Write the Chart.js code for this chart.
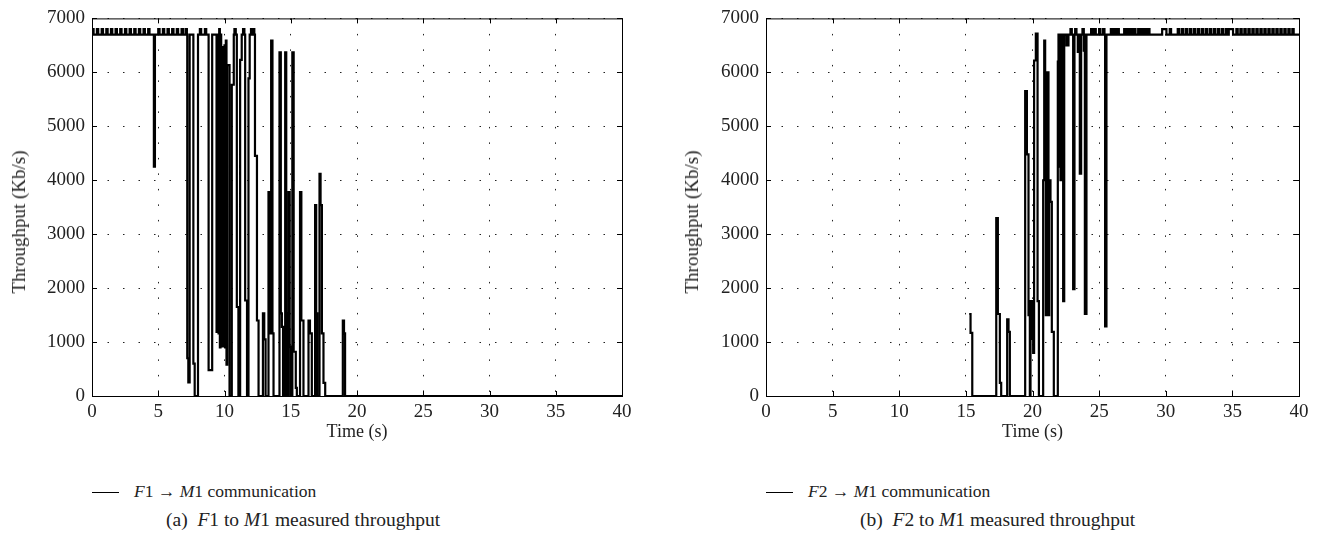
<!DOCTYPE html>
<html lang="en">
<head>
  <meta charset="UTF-8">
  <title>Measured throughput</title>
  <script src="https://cdn.jsdelivr.net/npm/chart.js"></script>
  <style>
    body { margin: 0; background: #fff; font-family: "Liberation Serif", serif; color: #222; }
    #wrap { position: relative; width: 1318px; height: 543px; overflow: hidden; }
    canvas { position: absolute; top: 0; }
    .legend, .caption, .ylab { position: absolute; white-space: nowrap; }
    .legend { font-size: 17.5px; }
    .caption { font-size: 19.5px; }
    .ylab { font-size: 19px; transform: translate(-50%, -50%) rotate(-90deg); }
    .legend span.swatch { display: inline-block; width: 27px; border-top: 1.5px solid #000; vertical-align: middle; margin-right: 15px; }
  </style>
</head>
<body>
<div id="wrap">
  <canvas id="chartA" width="650" height="460" style="left:0"></canvas>
  <canvas id="chartB" width="643" height="460" style="left:675px"></canvas>
  <div class="ylab" style="left:19px; top:222px">Throughput (Kb/s)</div>
  <div class="ylab" style="left:692px; top:222px">Throughput (Kb/s)</div>
  <div class="legend" style="left:92px; top:481px"><span class="swatch"></span><i>F</i>1 &rarr; <i>M</i>1 communication</div>
  <div class="caption" style="left:166px; top:509px">(a)&nbsp;&nbsp;<i>F</i>1 to <i>M</i>1 measured throughput</div>
  <div class="legend" style="left:766px; top:481px"><span class="swatch"></span><i>F</i>2 &rarr; <i>M</i>1 communication</div>
  <div class="caption" style="left:860px; top:509px">(b)&nbsp;&nbsp;<i>F</i>2 to <i>M</i>1 measured throughput</div>
</div>
<script>
  // axis ticks
  const timeTicks = [0, 5, 10, 15, 20, 25, 30, 35, 40];
  const rateTicks = [0, 1000, 2000, 3000, 4000, 5000, 6000, 7000];

  // F1 -> M1: step breakpoints (time in s, throughput in Kb/s held until next time)
  const f1Times = [0, 4.67, 4.75, 7.19, 7.27, 7.37, 7.65, 7.75, 8.0, 8.8, 9.07, 9.4, 9.5,
    9.55, 9.6, 9.65, 9.7, 9.75, 9.8, 9.85, 9.9, 9.95, 10.0, 10.05, 10.1, 10.15, 10.2, 10.38,
    10.55, 10.7, 10.93, 11.05, 11.18, 11.3, 11.56, 11.7, 11.81, 11.9, 12.3, 12.45, 12.57,
    12.9, 13.0, 13.1, 13.32, 13.45, 13.52, 13.62, 13.7, 14.15, 14.25, 14.33, 14.42,
    14.58, 14.66, 14.74, 14.83, 14.92, 15.0, 15.12, 15.22, 15.38, 15.46, 15.7, 15.8, 15.96,
    16.34, 16.45, 16.59, 16.84, 16.92, 17.0, 17.17, 17.25, 17.35, 17.47, 17.6,
    18.93, 19.02, 19.1, 40];
  const f1Rates = [6700, 4250, 6700, 700, 250, 6700, 600, 0, 6700, 480, 6700, 1190, 6700,
    1160, 6800, 900, 6700, 950, 6470, 920, 6470, 950, 6500, 900, 6590, 580, 6135, 0,
    5770, 6700, 1650, 0, 6230, 6700, 1770, 0, 5890, 6700, 4450, 1400, 0,
    1530, 1050, 0, 3780, 1160, 6590, 1160, 0, 6370, 1530, 1280, 0,
    6370, 1530, 0, 3780, 915, 0, 6370, 820, 150, 0, 3780, 1400, 0,
    1400, 1160, 0, 3540, 1530, 0, 4120, 3540, 1160, 245, 0,
    1400, 1160, 0, 0];
  // short 6800 peaks on the 6700 plateau
  const f1Peaks = [0.02, 0.37, 0.73, 1.08, 1.43, 1.78, 2.13, 2.49, 2.84, 3.19, 3.54, 3.89, 4.24,
    5.0, 5.35, 5.7, 6.05, 6.4, 6.76, 7.06, 8.14, 8.52, 10.75, 11.4, 12.0, 12.15];

  // F2 -> M1
  const f2Times = [15.25, 15.35, 15.48, 17.28, 17.4, 17.55, 17.65, 18.1, 18.2, 18.3,
    19.45, 19.58, 19.7, 19.8, 19.85, 19.95, 20.0, 20.05, 20.12, 20.25, 20.38, 20.48,
    20.8, 20.88, 20.95, 21.0, 21.05, 21.1, 21.15, 21.2, 21.25, 21.35, 21.45, 21.6,
    21.9, 21.95, 22.05, 22.1, 22.2, 22.3, 22.38, 22.55, 22.7, 23.05, 23.15, 23.4, 23.5,
    23.55, 23.65, 23.85, 23.93, 24.05, 25.45, 25.55, 29.73, 30.05, 34.73, 35.05, 40];
  const f2Rates = [1520, 1170, 0, 3300, 1520, 245, 0, 1420, 1190, 0,
    5650, 4480, 1500, 0, 1760, 1060, 1760, 800, 6220, 6720, 1760, 0,
    4000, 6590, 4000, 1500, 6000, 1500, 6000, 1500, 4000, 3600, 1190, 0,
    6200, 6700, 4250, 4000, 6700, 1760, 6700, 6500, 6700, 1980, 6700, 6380, 6700,
    4120, 6700, 6380, 1520, 6700, 1290, 6700, 6800, 6700, 6800, 6700, 6700];
  const f2Peaks = [22.85, 23.2, 23.75, 24.4, 24.65, 25.0, 25.3, 25.88, 26.13, 26.38,
    26.88, 27.13, 27.38, 27.63, 27.93, 28.18, 28.43, 28.68, 30.3,
    30.9, 31.2, 31.5, 31.8, 32.1, 32.4, 32.7, 33.0, 33.3, 33.6, 33.9, 34.2, 34.5,
    35.3, 35.6, 35.9, 36.2, 36.5, 36.8, 37.1, 37.4, 37.7, 38.0, 38.3, 38.6, 38.9, 39.2, 39.5];

  function buildPoints(times, rates, peaks) {
    const pts = times.map((t, i) => ({ x: t, y: rates[i] }));
    peaks.forEach(t => {
      pts.push({ x: t, y: 6800 });
      pts.push({ x: t + 0.1, y: 6700 });
    });
    return pts.sort((a, b) => a.x - b.x);
  }

  // box round the plot with inward ticks, like the original figure
  const frame = {
    id: 'frame',
    afterDraw(chart) {
      const { ctx, chartArea: a, scales: { x, y } } = chart;
      ctx.save();
      ctx.strokeStyle = '#000';
      ctx.lineWidth = 1;
      ctx.strokeRect(a.left + 0.5, a.top + 0.5, a.right - a.left, a.bottom - a.top);
      ctx.beginPath();
      timeTicks.forEach(v => {
        const px = Math.round(x.getPixelForValue(v)) + 0.5;
        ctx.moveTo(px, a.bottom); ctx.lineTo(px, a.bottom - 5);
        ctx.moveTo(px, a.top); ctx.lineTo(px, a.top + 5);
      });
      rateTicks.forEach(v => {
        const py = Math.round(y.getPixelForValue(v)) + 0.5;
        ctx.moveTo(a.left, py); ctx.lineTo(a.left + 5, py);
        ctx.moveTo(a.right, py); ctx.lineTo(a.right - 5, py);
      });
      ctx.stroke();
      ctx.restore();
    }
  };

  const tickFont = { family: 'Liberation Serif', size: 19 };

  function makeChart(id, points, yWidth, padRight) {
    return new Chart(document.getElementById(id), {
      type: 'line',
      data: {
        datasets: [
          { data: points, stepped: true, borderColor: '#000', borderWidth: 2.2, pointRadius: 0 },
          { data: points, stepped: true, borderColor: '#c4c4c4', borderWidth: 0.7, pointRadius: 0 }
        ]
      },
      options: {
        responsive: false,
        animation: false,
        layout: { padding: { top: 12, right: padRight, left: 0, bottom: 0 } },
        plugins: { legend: { display: false }, tooltip: { enabled: false } },
        scales: {
          x: {
            type: 'linear', min: 0, max: 40,
            afterBuildTicks: s => { s.ticks = timeTicks.map(v => ({ value: v })); },
            afterFit: s => { s.height = 64; },
            ticks: { font: tickFont, color: '#222', padding: 5, maxRotation: 0, callback: v => String(v) },
            grid: { color: '#222', lineWidth: 1, drawTicks: false },
            border: { display: false, dash: [1.5, 14] },
            title: { display: true, text: 'Time (s)', font: { family: 'Liberation Serif', size: 18 }, color: '#222', padding: { top: 0, bottom: 17 } }
          },
          y: {
            min: 0, max: 7000,
            afterBuildTicks: s => { s.ticks = rateTicks.map(v => ({ value: v })); },
            afterFit: s => { s.width = yWidth; },
            ticks: { font: tickFont, color: '#222', padding: 7, callback: v => String(v) },
            grid: { color: '#222', lineWidth: 1, drawTicks: false },
            border: { display: false, dash: [1.5, 14] }
          }
        }
      },
      plugins: [frame]
    });
  }

  makeChart('chartA', buildPoints(f1Times, f1Rates, f1Peaks), 92, 28);
  makeChart('chartB', buildPoints(f2Times, f2Rates, f2Peaks), 91, 19);
</script>
</body>
</html>
